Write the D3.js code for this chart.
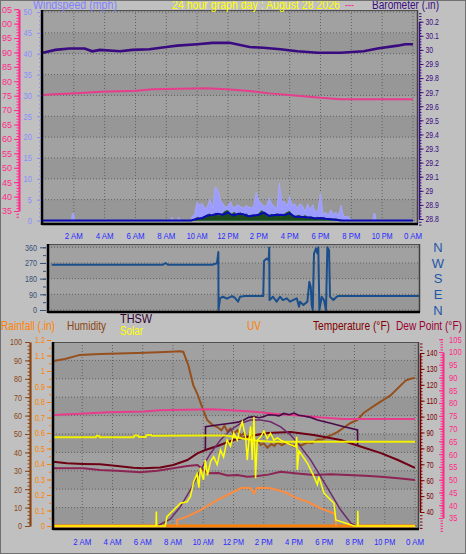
<!DOCTYPE html>
<html><head><meta charset="utf-8">
<script src="https://cdn.jsdelivr.net/npm/d3@7"></script>
<style>
html,body{margin:0;padding:0;background:#c0c0c0;}
svg{display:block;font-family:"Liberation Sans",Arial,sans-serif;}
</style></head><body>
<svg id="c" width="466" height="554"></svg>
<script>
// ---------------- DATA ----------------
const hourTicks = [2,4,6,8,10,12,14,16,18,20,22,24];
const timeLabels = ["2 AM","4 AM","6 AM","8 AM","10 AM","12 PM","2 PM","4 PM","6 PM","8 PM","10 PM","0 AM"];

const windTicks = [0,5,10,15,20,25,30,35,40,45,50];
const indoorTicksTop = [35,40,45,50,55,60,65,70,75,80,85,90,95,100,105];
const baroTicks = [28.8,28.9,29,29.1,29.2,29.3,29.4,29.5,29.6,29.7,29.8,29.9,30,30.1,30.2];
const dirTicks = [0,90,180,270,360];
const dirLabels = ["N","E","S","W","N"];
const humTicks = [0,10,20,30,40,50,60,70,80,90,100];
const rainTicks = [0,0.1,0.2,0.3,0.4,0.5,0.6,0.7,0.8,0.9,1,1.1,1.2];
const tempTicks = [40,50,60,70,80,90,100,110,120,130,140];
const indoorTicksBot = [35,40,45,50,55,60,65,70,75,80,85,90,95,100,105];

// [hour, value]
const indoorTemp = [[0,75.2],[0.65,75.5],[1.9,75.8],[3.7,76.4],[6.1,76.7],[7.1,77.2],[10.6,77.6],[11.9,77.2],[13.4,76.6],[14.7,75.8],[16.5,75.0],[18.0,74.3],[19.3,73.8],[24,73.8]];
const pressure = [[0,29.98],[0.8,30.0],[1.7,30.01],[2.7,30.01],[3.2,29.99],[3.7,30.0],[5.0,29.99],[5.8,30.0],[6.9,30.005],[8.0,30.02],[8.7,30.03],[10.0,30.04],[11.0,30.05],[12.1,30.05],[13.4,30.02],[14.3,30.015],[15.4,30.005],[16.5,29.99],[17.8,29.98],[19.3,29.98],[20.8,29.99],[21.7,30.01],[23.0,30.03],[23.5,30.04],[24,30.04]];
const windGust = [[0,0],[1.85,0],[1.9,1.7],[2.0,1.7],[2.05,0],[8.3,0],[8.35,0.8],[8.45,0],[8.75,0],[8.8,0.8],[8.9,0],
 [9.6,0],[9.67,0.9],[9.83,1.5],[10.0,4.5],[10.17,3.5],[10.33,4.2],[10.5,2.8],[10.67,3.5],[10.83,5.2],[11.0,3.0],[11.17,8.0],[11.33,7.5],[11.5,5.0],[11.67,4.0],[11.83,3.2],[12.0,3.5],[12.17,4.5],[12.33,3.0],[12.5,3.4],[12.67,3.8],[12.83,3.3],[13.0,3.0],[13.17,3.6],[13.33,3.3],[13.5,3.0],[13.67,3.5],[13.83,6.8],[14.0,4.8],[14.17,4.0],[14.33,3.5],[14.5,3.5],[14.67,5.5],[14.83,4.0],[15.0,3.5],[15.17,2.8],[15.33,9.0],[15.5,4.5],[15.67,4.5],[15.83,3.5],[16.0,5.8],[16.17,3.6],[16.33,4.0],[16.5,3.0],[16.67,4.0],[16.83,3.5],[17.0,2.2],[17.17,4.0],[17.33,2.6],[17.5,3.8],[17.67,2.0],[17.83,2.5],[18.0,6.5],[18.17,1.5],[18.33,2.0],[18.5,1.2],[18.67,2.5],[18.83,1.5],[19.0,2.0],[19.17,1.2],[19.33,3.6],[19.5,1.0],[19.67,0.9],[19.83,0.9],[20.0,0],
 [21.4,0],[21.45,1.6],[21.55,1.6],[21.6,0],[24,0]];
const windSpeed = [[9.8,0],[10.0,0.8],[10.2,0.4],[10.5,1.0],[10.8,1.6],[11.0,1.0],[11.2,1.8],[11.4,1.2],[11.6,1.5],[11.8,2.2],[12.0,2.4],[12.2,1.4],[12.4,2.0],[12.6,1.3],[12.8,1.9],[13.0,1.2],[13.2,1.6],[13.4,0.9],[13.6,1.4],[13.8,1.1],[14.0,1.7],[14.2,2.4],[14.4,1.6],[14.6,1.0],[14.8,1.5],[15.0,1.2],[15.2,1.7],[15.4,1.0],[15.6,1.4],[15.8,1.9],[16.0,2.2],[16.2,1.2],[16.4,1.0],[16.6,1.3],[16.8,0.8],[17.0,1.2],[17.2,0.7],[17.4,0.9],[17.6,0.6],[17.8,0.8],[18.0,0.5],[18.2,0.7],[18.4,0.4],[18.6,0.5],[18.8,0.3],[19.0,0.4],[19.2,0.2],[19.5,0]];
const windAvg = [[0,0],[9.6,0],[10.0,0.4],[10.33,0.6],[10.67,1.2],[11.0,1.3],[11.33,1.6],[11.67,1.4],[12.0,1.9],[12.33,1.2],[12.67,1.6],[13.0,1.5],[13.33,1.0],[13.67,1.2],[14.0,1.4],[14.33,1.9],[14.67,1.1],[15.0,1.3],[15.33,1.4],[15.67,1.3],[16.0,1.7],[16.33,0.9],[16.67,0.9],[17.0,0.8],[17.33,0.7],[17.67,0.5],[18.0,0.6],[18.33,0.4],[18.67,0.3],[19.0,0.2],[19.33,0],[24,0]];
const windDir = [[0.11,260],[7.35,260],[7.51,270],[7.67,260],[10.54,260],[10.86,268],[10.95,333],[10.96,0],[11.06,68],[11.25,76],[11.51,65],[11.84,80],[12.03,70],[12.23,48],[12.36,76],[12.68,80],[13.87,80],[13.92,282],[14.09,295],[14.22,285],[14.26,358],[14.28,57],[14.50,76],[14.74,48],[14.96,76],[15.15,57],[15.40,67],[15.61,48],[15.80,57],[16.05,67],[16.20,19],[16.26,48],[16.48,29],[16.74,48],[16.87,162],[16.96,133],[17.02,29],[17.09,0],[17.17,324],[17.30,354],[17.39,324],[17.45,360],[17.52,0],[17.67,76],[17.82,57],[17.95,0],[18.04,360],[18.15,343],[18.21,76],[18.43,57],[18.65,76],[18.73,80],[24,80]];
const humidity = [[0.07,89.7],[0.86,90.8],[1.85,93],[3.18,93.5],[5.63,94],[7.48,94.6],[8.48,95],[8.68,94.6],[9.01,87.5],[9.34,76.6],[9.6,72],[10.0,63],[10.26,57.6],[10.6,55],[10.93,53.8],[11.2,52],[11.4,54.5],[11.59,51.5],[11.8,53],[12.0,50],[12.25,52],[12.5,49],[12.7,50.5],[12.91,47.5],[13.1,48.5],[13.3,45.5],[13.58,46.5],[13.8,44],[14.0,45],[14.24,42.5],[14.5,44.5],[14.7,43.5],[14.9,45.5],[15.2,44],[15.56,45.5],[15.9,43.5],[16.23,44.5],[16.5,43.8],[16.89,45.5],[17.2,45],[17.55,47],[17.9,47],[18.21,48.5],[18.5,49.5],[18.87,51],[19.74,56],[20.2,57.6],[20.6,61.4],[21.39,65.8],[22.38,71],[23.38,79],[23.7,80],[24,80.5]];
const temperature = [[0.07,71.6],[0.99,70.6],[2.06,70.2],[3.18,70],[4.31,69],[5.37,67.9],[6.03,67.5],[7.16,68],[8.02,69.6],[8.95,72.7],[9.61,76.9],[10.14,79],[10.94,81.5],[12.0,85.3],[13.13,87.8],[14.25,89.7],[15.78,90.3],[17.3,88.4],[19.09,85.3],[20.29,81.5],[21.75,77],[22.87,72.7],[24,67.7]];
const dewPoint = [[0.07,67.5],[2.06,67.5],[3.18,66.4],[4.31,66],[5.83,65],[6.96,66],[8.02,67.5],[8.95,68.9],[9.61,69.6],[10.28,64.3],[11.0,64.5],[11.6,63],[12.27,63.3],[12.9,62.2],[13.59,62.6],[14.3,63.5],[15.12,65.3],[16.2,64.2],[17.3,63.3],[18.4,63.8],[19.56,63.3],[20.7,62.8],[21.75,62.2],[22.9,61.3],[24,60.1]];
const thsw = [[10.14,79],[10.15,93.6],[10.92,94.7],[11.80,95.8],[12.3,96.5],[12.68,97.9],[13.0,99.5],[13.35,100],[13.7,99.3],[14.01,100],[14.3,101.2],[14.67,101],[15.0,100.5],[15.33,102],[15.7,101.2],[16.0,102.2],[16.3,100.8],[16.64,100.4],[17.1,99.5],[17.55,97.9],[18.43,95.8],[19.31,93.6],[20.2,91.6],[20.21,81.5]];
const solar = [[0,0],[6.88,0],[6.9,95],[6.92,0],[7.49,0],[7.6,61],[8.04,104],[8.49,148],[8.93,158],[9.15,191],[9.37,289],[9.59,340],[9.71,250],[9.81,380],[10.01,300],[10.14,430],[10.28,330],[10.48,420],[10.69,452],[10.92,400],[11.14,496],[11.34,450],[11.58,561],[11.8,520],[12.02,605],[12.25,560],[12.46,648],[12.58,680],[12.8,580],[12.91,430],[13.02,560],[13.13,650],[13.24,430],[13.35,713],[13.46,311],[13.57,560],[13.79,580],[14.01,620],[14.23,570],[14.45,605],[14.67,560],[14.9,575],[15.12,560],[15.33,550],[15.78,530],[16.11,517],[16.18,582],[16.22,365],[16.33,490],[16.89,409],[17.32,322],[17.55,270],[17.64,322],[17.99,213],[18.65,148],[18.76,40],[19.43,18],[19.98,0],[20.2,0],[20.22,100],[20.24,0],[24,0]];
const solarMax = [[6.96,0],[7.82,44],[8.49,126],[9.15,235],[9.81,365],[10.48,474],[11.14,561],[11.8,626],[12.46,669],[13.13,691],[13.79,691],[14.45,680],[15.12,646],[15.78,593],[16.44,517],[17.11,430],[17.77,322],[18.43,213],[19.09,104],[19.76,18],[20.09,0]];
const solarLevel = [[0,578],[2.9,578],[2.95,588],[3.1,588],[3.15,578],[5.4,578],[5.45,590],[5.7,590],[5.75,580],[6.2,580],[6.25,594],[6.55,594],[6.6,588],[9.5,590],[11.5,590],[13.5,556],[14.5,550],[24,550]];
const uvIndex = [[8.27,0],[8.28,0.4],[8.93,0.61],[9.81,1.04],[10.92,1.69],[11.8,2.13],[12.46,2.46],[12.8,2.5],[13.13,2.46],[13.35,2.13],[13.53,2.46],[13.79,2.5],[14.45,2.46],[15.33,2.24],[16.22,1.8],[16.89,1.59],[17.77,1.15],[18.65,0.83],[18.76,0.61],[18.77,0]];
const rainfall = [[0,0],[24,0]];

// ---------------- SCALES ----------------
const svg = d3.select("#c");
const FONT = '"Liberation Sans",Arial,sans-serif';
svg.append("rect").attr("width",466).attr("height",554).attr("fill","#c0c0c0");

const xTop = d3.scaleLinear().domain([0,24]).range([43,413]);
const yWind = d3.scaleLinear().domain([0,50]).range([220.5,12]);
const yBaro = d3.scaleLinear().domain([28.8,30.2]).range([219,21.7]);
const yIn = d3.scaleLinear().domain([35,105]).range([211,9.2]);
const xMid = d3.scaleLinear().domain([0,24]).range([50,419]);
const yDir = d3.scaleLinear().domain([0,360]).range([310,247.3]);
const xBot = d3.scaleLinear().domain([0,24]).range([52,415]);
const yHum = d3.scaleLinear().domain([0,100]).range([526,342]);
const yRain = d3.scaleLinear().domain([0,1.2]).range([526,340]);
const yTemp = d3.scaleLinear().domain([40,140]).range([512,353]);
const yIn2 = d3.scaleLinear().domain([35,100]).range([518,352]);
const ySolar = d3.scaleLinear().domain([0,1200]).range([526,342]);
const yUV = d3.scaleLinear().domain([0,12]).range([526,342]);

const boxes = {
  top:{x0:42,y0:10,x1:418,y1:224},
  mid:{x0:48,y0:244,x1:420,y1:312},
  bot:{x0:53,y0:342,x1:419,y1:529}
};
const defs = svg.append("defs");
Object.entries(boxes).forEach(([k,b])=>{
  defs.append("clipPath").attr("id","clip-"+k).append("rect")
    .attr("x",b.x0).attr("y",b.y0).attr("width",b.x1-b.x0).attr("height",b.y1-b.y0);
});

function drawPanel(b, bandYs, gridXs){
  const g = svg.append("g");
  g.append("rect").attr("x",b.x0).attr("y",b.y0).attr("width",b.x1-b.x0).attr("height",b.y1-b.y0).attr("fill","#a1a1a1");
  const ys = [b.y1, ...bandYs.filter(y=>y>b.y0 && y<b.y1).sort((a,c)=>c-a), b.y0];
  for(let i=0;i<ys.length-1;i++){
    if(i%2===1){
      g.append("rect").attr("x",b.x0).attr("y",ys[i+1]).attr("width",b.x1-b.x0).attr("height",ys[i]-ys[i+1]).attr("fill","#979797");
    }
  }
  bandYs.filter(y=>y>b.y0 && y<b.y1).forEach(y=>{
    g.append("line").attr("x1",b.x0).attr("x2",b.x1).attr("y1",y).attr("y2",y)
      .attr("stroke","#626262").attr("stroke-dasharray","1,2");
  });
  gridXs.filter(x=>x>b.x0 && x<b.x1-2).forEach(x=>{
    g.append("line").attr("x1",x).attr("x2",x).attr("y1",b.y0).attr("y2",b.y1)
      .attr("stroke","#626262").attr("stroke-dasharray","1,2");
  });
}
function drawBorder(b){
  const g = svg.append("g");
  g.append("line").attr("x1",b.x0).attr("x2",b.x1).attr("y1",b.y0+0.5).attr("y2",b.y0+0.5).attr("stroke","#505050");
  g.append("line").attr("x1",b.x1-0.5).attr("x2",b.x1-0.5).attr("y1",b.y0).attr("y2",b.y1).attr("stroke","#404040").attr("stroke-width",1.5);
  g.append("line").attr("x1",b.x0).attr("x2",b.x0).attr("y1",b.y0).attr("y2",b.y1+1).attr("stroke","#000").attr("stroke-width",2.5);
  g.append("line").attr("x1",b.x0).attr("x2",b.x1).attr("y1",b.y1).attr("y2",b.y1).attr("stroke","#000").attr("stroke-width",2.5);
}

// panels
drawPanel(boxes.top, windTicks.map(yWind), hourTicks.map(xTop));
drawPanel(boxes.mid, dirTicks.map(yDir), []);
drawPanel(boxes.bot, humTicks.map(yHum), hourTicks.map(xBot));

function lineOf(x,y){ return d3.line().x(d=>x(d[0])).y(d=>y(d[1])); }
function areaOf(x,y){ return d3.area().x(d=>x(d[0])).y0(y(0)).y1(d=>y(d[1])); }

// ---- top panel series ----
const gt = svg.append("g").attr("clip-path","url(#clip-top)");
gt.append("path").datum(windGust).attr("d",areaOf(xTop,yWind)).attr("fill","#9c9cff").attr("stroke","#a8a8ff").attr("stroke-width",0.8);
gt.append("path").datum(windSpeed).attr("d",areaOf(xTop,yWind)).attr("fill","#1c4a1c").attr("stroke","#226622").attr("stroke-width",0.8);
gt.append("path").datum(windAvg).attr("d",lineOf(xTop,yWind)).attr("fill","none").attr("stroke","#0a0ab4").attr("stroke-width",2);
gt.append("path").datum(indoorTemp).attr("d",lineOf(xTop,yIn)).attr("fill","none").attr("stroke","#e83c8c").attr("stroke-width",2);
gt.append("path").datum(pressure).attr("d",lineOf(xTop,yBaro)).attr("fill","none").attr("stroke","#3a0a80").attr("stroke-width",2.6);

// ---- middle panel ----
const gm = svg.append("g").attr("clip-path","url(#clip-mid)");
gm.append("path").datum(windDir).attr("d",lineOf(xMid,yDir)).attr("fill","none").attr("stroke","#1a4f8c").attr("stroke-width",2).attr("stroke-linejoin","round");

// ---- bottom panel ----
const gb = svg.append("g").attr("clip-path","url(#clip-bot)");
gb.append("path").datum(rainfall).attr("d",lineOf(xBot,yRain)).attr("fill","none").attr("stroke","#ff8000").attr("stroke-width",3);
gb.append("path").datum(uvIndex).attr("d",lineOf(xBot,yUV)).attr("fill","none").attr("stroke","#ff8c3c").attr("stroke-width",2);
gb.append("path").datum(humidity).attr("d",lineOf(xBot,yHum)).attr("fill","none").attr("stroke","#96501e").attr("stroke-width",2);
gb.append("path").datum(indoorTemp).attr("d",lineOf(xBot,yIn2)).attr("fill","none").attr("stroke","#e83c8c").attr("stroke-width",2);
gb.append("path").datum(dewPoint).attr("d",lineOf(xBot,yTemp)).attr("fill","none").attr("stroke","#8c2454").attr("stroke-width",2);
gb.append("path").datum(temperature).attr("d",lineOf(xBot,yTemp)).attr("fill","none").attr("stroke","#6e0014").attr("stroke-width",2);
gb.append("path").datum(thsw).attr("d",lineOf(xBot,yTemp)).attr("fill","none").attr("stroke","#4a0848").attr("stroke-width",1.6);
gb.append("path").datum(solarMax).attr("d",lineOf(xBot,ySolar)).attr("fill","none").attr("stroke","#6e2a6a").attr("stroke-width",1.5);
gb.append("path").datum(solarLevel).attr("d",lineOf(xBot,ySolar)).attr("fill","none").attr("stroke","#f0f000").attr("stroke-width",2);
gb.append("path").datum(solar).attr("d",lineOf(xBot,ySolar)).attr("fill","none").attr("stroke","#ffff00").attr("stroke-width",1.5);

drawBorder(boxes.top); drawBorder(boxes.mid); drawBorder(boxes.bot);

// ---------------- AXES ----------------
function squeeze(g, dw){
  g.selectAll(".tick text").each(function(){
    const s = d3.select(this).text();
    let w = 0; for(const ch of s){ w += (ch==='.')?2:dw; }
    d3.select(this).attr("textLength",w).attr("lengthAdjust","spacingAndGlyphs");
  });
}
function makeAxis(gen, scale, vals, x, color, opts){
  const a = gen(scale).tickValues(vals).tickSizeInner(opts.size).tickSizeOuter(0).tickPadding(opts.pad).tickFormat(opts.fmt||(d=>String(d)));
  const g = svg.append("g").attr("transform",`translate(${x},0)`).call(a);
  g.attr("font-family",FONT).attr("font-size",opts.fs||9);
  const dom = g.select(".domain");
  if(opts.domain){ dom.attr("stroke",color).attr("stroke-width",opts.domain); } else dom.remove();
  g.selectAll(".tick line").attr("stroke",color);
  g.selectAll(".tick text").attr("fill",color);
  if(opts.dw) squeeze(g, opts.dw);
  return g;
}
function minorTicks(gen, scale, vals, x, size, color){
  const g = svg.append("g").attr("transform",`translate(${x},0)`)
    .call(gen(scale).tickValues(vals).tickSize(size).tickFormat(""));
  g.select(".domain").remove();
  g.selectAll(".tick line").attr("stroke",color);
}
const fmt1 = d => String(Math.round(d*10)/10);

// top left: indoor temperature (pink)
minorTicks(d3.axisLeft, yIn, d3.range(33,106,1), 19, 2.5, "#ff2a8a");
makeAxis(d3.axisLeft, yIn, indoorTicksTop, 19, "#ff2a8a", {size:5,pad:2,domain:2,dw:5});
// windspeed
minorTicks(d3.axisLeft, yWind, d3.range(0,51,1), 41, 2, "#8c8cff");
makeAxis(d3.axisLeft, yWind, windTicks, 41, "#8c8cff", {size:4,pad:5,dw:4.2});
// barometer
minorTicks(d3.axisRight, yBaro, d3.range(28.76,30.28,0.02), 419, 2.5, "#3a0a80");
makeAxis(d3.axisRight, yBaro, baroTicks, 419, "#3a0a80", {size:4.5,pad:2,domain:1.5,fmt:fmt1,dw:3.8});
// direction
minorTicks(d3.axisLeft, yDir, d3.range(0,361,45), 46, 3, "#36507a");
makeAxis(d3.axisLeft, yDir, dirTicks, 46, "#36507a", {size:6,pad:3,dw:4});
// humidity
minorTicks(d3.axisLeft, yHum, d3.range(0,101,2), 30, 2.5, "#8b4513");
makeAxis(d3.axisLeft, yHum, humTicks, 30, "#8b4513", {size:5,pad:3,domain:2.2,dw:4});
// rainfall
minorTicks(d3.axisLeft, yRain, d3.range(0,1.21,0.05), 51, 2, "#ff8000");
makeAxis(d3.axisLeft, yRain, rainTicks, 51, "#ff8000", {size:4,pad:2,fmt:fmt1,dw:4});
// temperature (right)
minorTicks(d3.axisRight, yTemp, d3.range(30,148,2), 420, 2.5, "#7a0000");
makeAxis(d3.axisRight, yTemp, tempTicks, 420, "#7a0000", {size:4.5,pad:2,domain:1.5,dw:3.6});
// indoor temperature bottom (pink, far right)
minorTicks(d3.axisRight, yIn2, d3.range(30,106,1), 443, -2.5, "#ff2a8a");
makeAxis(d3.axisRight, yIn2, indoorTicksBot, 443, "#ff2a8a", {size:-4,pad:6,domain:2,dw:4.2});

// hour labels
function hourLabels(x, yb){
  const g = svg.append("g").attr("font-family",FONT).attr("font-size",9).attr("fill","#2a2aff");
  g.selectAll("text").data(hourTicks).join("text")
    .attr("x",d=>x(d)).attr("y",yb).attr("text-anchor","middle")
    .attr("textLength",(d,i)=>timeLabels[i].length>4?21:18).attr("lengthAdjust","spacingAndGlyphs")
    .text((d,i)=>timeLabels[i]);
}
hourLabels(xTop, 238.5);
hourLabels(xBot, 544.5);

// compass letters
svg.append("g").attr("font-family",FONT).attr("font-size",13).attr("fill","#1e56a8")
  .selectAll("text").data(dirTicks).join("text")
  .attr("x",438).attr("y",d=>yDir(d)+4.6).attr("text-anchor","middle")
  .text((d,i)=>dirLabels[i]);

// titles / legends
function label(txt,x,y,color,w,fs){
  svg.append("text").attr("x",x).attr("y",y).attr("fill",color).attr("font-family",FONT)
    .attr("font-size",fs||12).attr("textLength",w).attr("lengthAdjust","spacingAndGlyphs").text(txt);
}
label("Windspeed (mph)",33,9,"#8080ff",84);
label("24 hour graph day : August 28 2026",172,9,"#ffff00",168);
label("---",345,9,"#ff2a8a",9);
label("Barometer (.in)",372,9,"#3a0a80",67);
label("Rainfall (.in)",1,330,"#ff8000",54);
label("Humidity",67,330,"#8b4513",39);
label("THSW",120,322.5,"#330033",32);
label("Solar",120,335,"#ffff00",23);
label("UV",247,330,"#ff8000",14);
label("Temperature (°F)",313,330,"#800000",77);
label("Dew Point (°F)",396,330,"#990033",66);

svg.append("rect").attr("x",0.5).attr("y",0.5).attr("width",465).attr("height",553).attr("fill","none").attr("stroke","#707070");
</script>
</body></html>
